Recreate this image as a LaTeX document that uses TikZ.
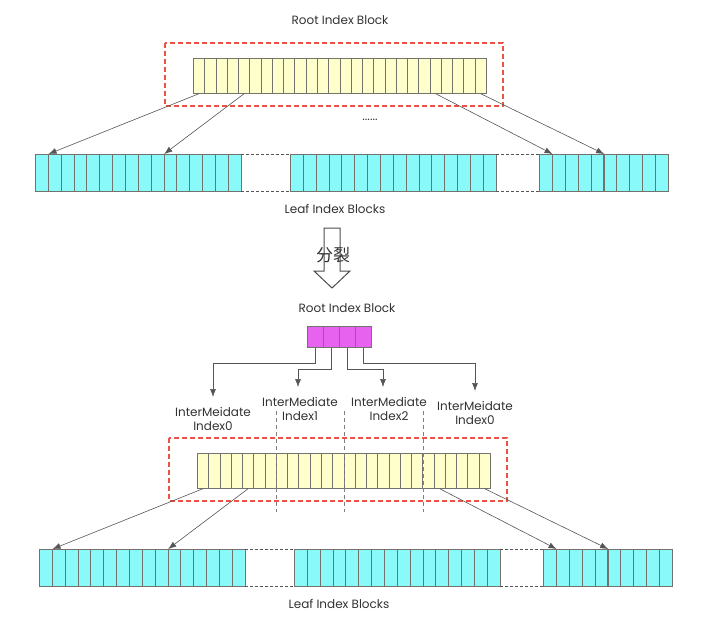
\documentclass[tikz,border=0pt]{standalone}
\usepackage{fontspec}
\setmainfont{Poppins}
\newfontfamily\cjk{Noto Sans CJK SC}
\usetikzlibrary{arrows.meta}
\definecolor{yfill}{RGB}{255,255,204}
\definecolor{cfill}{RGB}{138,249,250}
\definecolor{mfill}{RGB}{232,98,240}
\definecolor{cellgray}{RGB}{115,115,110}
\definecolor{linegray}{RGB}{85,85,85}
\definecolor{boxred}{RGB}{236,82,70}
\definecolor{textgray}{RGB}{50,50,50}

\begin{document}
\begin{tikzpicture}[x=1pt,y=-1pt,
    ycell/.style={draw=cellgray,fill=yfill,line width=0.7pt,minimum width=11.27pt,minimum height=35pt,inner sep=0pt,anchor=north west},
    lcell/.style={draw=cellgray,fill=cfill,line width=0.7pt,minimum width=12.85pt,minimum height=37pt,inner sep=0pt,anchor=north west},
    mcell/.style={draw=cellgray,fill=mfill,line width=0.7pt,minimum width=16pt,minimum height=21pt,inner sep=0pt,anchor=north west},
    link/.style={draw=linegray,line width=0.6pt,-{Latex[length=8pt,width=6pt]}},
    gap/.style={draw=linegray,line width=0.6pt,dash pattern=on 3pt off 2pt},
    divider/.style={draw=gray,line width=0.6pt,dash pattern=on 4pt off 3pt},
    redbox/.style={draw=boxred,line width=1.2pt,dash pattern=on 5pt off 3pt},
    txt/.style={text=textgray,font=\fontsize{12}{14}\selectfont,inner sep=0pt},
    idxlabel/.style={txt,align=center,anchor=north,inner ysep=10pt},
  ]
  \useasboundingbox (0,0) rectangle (711,622);

  % the same index level, before and after the split
  \foreach \p/\dx/\dy in {a/0/0,b/4/395}{
    \begin{scope}[shift={(\dx,\dy)}]
      \draw[redbox] (165,43) rectangle (503,106);
      \foreach \i in {1,...,26}
        \node[ycell] (\p-y\i) at ({193+(\i-1)*11.27},58) {};
      \foreach \i in {1,...,16}{
        \node[lcell] (\p-l\i) at ({35+(\i-1)*12.85},154) {};
        \node[lcell] (\p-m\i) at ({290+(\i-1)*12.85},154) {};
      }
      \foreach \i in {1,...,10}
        \node[lcell] (\p-r\i) at ({539+(\i-1)*12.9},154) {};
      \draw[gap] (\p-l16.north east) -- (\p-m1.north west);
      \draw[gap] (\p-l16.south east) -- (\p-m1.south west);
      \draw[gap] (\p-m16.north east) -- (\p-r1.north west);
      \draw[gap] (\p-m16.south east) -- (\p-r1.south west);
      \draw[link] (\p-y1.south) -- (\p-l1.north east);
      \draw[link] (\p-y5.south) -- (\p-l10.north east);
      \draw[link] (\p-y22.south) -- (\p-r1.north east);
      \draw[link] (\p-y26.south) -- (\p-r5.north east);
      \node[txt] (\p-leaf) at (335,209) {Leaf Index Blocks};
    \end{scope}
  }

  % before
  \node[txt] (rootA) at (340,20) {Root Index Block};
  \node[txt] (dots) at (370,120) {......};

  % split arrow
  \draw[draw=black!70,line width=1pt,line join=miter]
    (324,228) -- (340,228) -- (340,271) -- (350,271) -- (332,288)
    -- (314,271) -- (324,271) -- cycle;
  \node[txt,font=\cjk\fontsize{17}{17}\selectfont] (split) at (333,255) {分裂};

  % after
  \node[txt] (rootB) at (347,308) {Root Index Block};
  \foreach \i in {1,...,4}
    \node[mcell] (mb\i) at ({307+(\i-1)*16},326) {};

  \node[idxlabel] (lab0) at (213,397) {InterMeidate\\Index0};
  \node[idxlabel] (lab1) at (300,387) {InterMediate\\Index1};
  \node[idxlabel] (lab2) at (389,387) {InterMediate\\Index2};
  \node[idxlabel] (lab3) at (475,391) {InterMeidate\\Index0};

  \draw[link] (mb1.south) -- ++(0,16) -| (lab0.north);
  \draw[link] (mb2.south) -- ++(0,22) -| ([xshift=-2pt]lab1.north);
  \draw[link] (mb3.south) -- ++(0,22) -| ([xshift=-6pt]lab2.north);
  \draw[link] (mb4.south) -- ++(0,16) -| (lab3.north);

  \foreach \i in {7,13,20}
    \draw[divider] ([yshift=42pt]b-y\i.north east) -- ([yshift=-23pt]b-y\i.south east);
\end{tikzpicture}
\end{document}
